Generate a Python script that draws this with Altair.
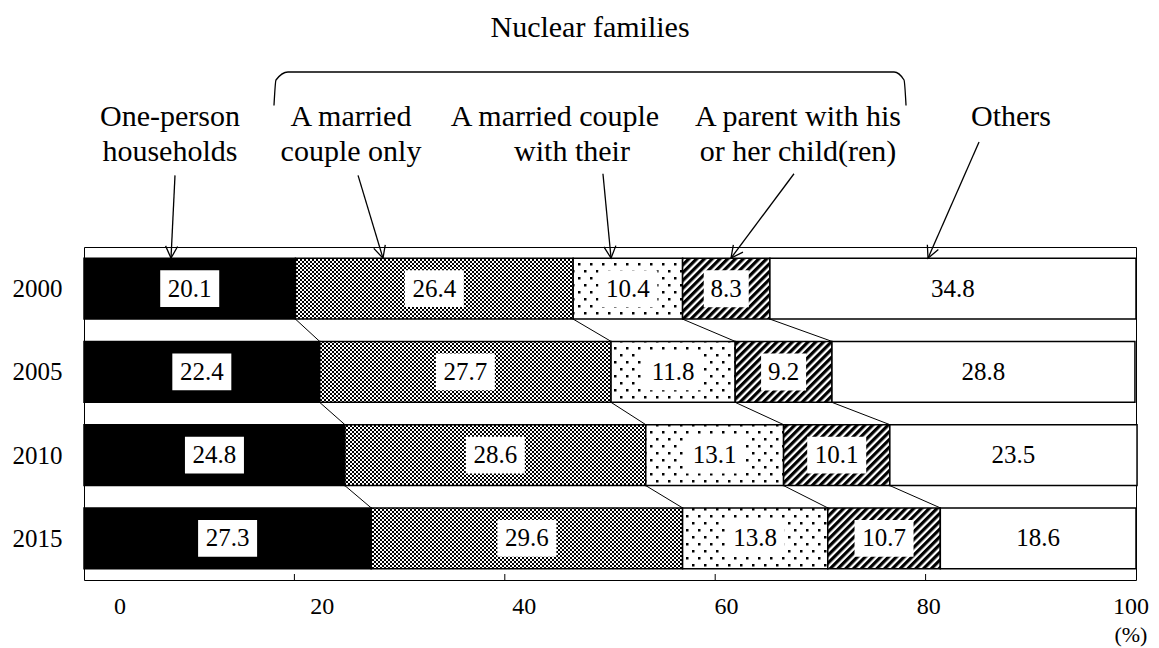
import math
import jinja2
import pandas as pd
import altair as alt

# ---------------- data ----------------
years = ["2000", "2005", "2010", "2015"]
categories = [
    "One-person households",
    "A married couple only",
    "A married couple with their children",
    "A parent with his or her child(ren)",
    "Others",
]
one_person = [20.1, 22.4, 24.8, 27.3]
couple_only = [26.4, 27.7, 28.6, 29.6]
couple_children = [10.4, 11.8, 13.1, 13.8]
parent_child = [8.3, 9.2, 10.1, 10.7]
others = [34.8, 28.8, 23.5, 18.6]
series = [one_person, couple_only, couple_children, parent_child, others]

tick_values = [0, 20, 40, 60, 80, 100]
tick_labels = ["0", "20", "40", "60", "80", "100"]
unit_label = "(%)"
group_title = "Nuclear families"

# annotation text lines (text, x in %, y in row units)
ann_text = ["One-person", "households", "A married", "couple only",
            "A married couple", "with their", "A parent with his",
            "or her child(ren)", "Others"]
ann_x = [8.17, 8.17, 25.38, 25.38, 44.77, 46.39, 67.87, 67.87, 88.12]
ann_y = [-2.06, -1.64, -2.06, -1.64, -2.06, -1.64, -2.06, -1.64, -2.06]
title_x, title_y = 48.1, -3.13

arrow_tail_x = [8.65, 26.05, 49.33, 67.49, 85.08]
arrow_tail_y = [-1.36, -1.36, -1.38, -1.38, -1.76]
arrow_tip_x = [8.27, 28.42, 50.10, 61.50, 80.23]

brace_x = [18.06, 18.25, 19.39, 77.0, 77.95, 78.14]
brace_y = [-2.20, -2.506, -2.602, -2.602, -2.506, -2.20]

# ---------------- layout / style ----------------
W, H = 1052, 333
PX_PER_PCT = W / 100.0
PX_PER_ROW = H / 4.0
BAR_HALF = 0.366
FONT = "Liberation Serif, Times New Roman, serif"
fills = ["#000000", "url(#p-stipple)", "url(#p-dots)", "url(#p-stripes)", "#ffffff"]

rows = []
for i, yr in enumerate(years):
    start = 0.0
    for c, cat in enumerate(categories):
        v = series[c][i]
        lab = f"{v:.1f}"
        rows.append(dict(year=yr, row=i, cat=cat, start=start, end=start + v,
                         mid=start + v / 2, label=lab, nchar=len(lab),
                         y0=i - BAR_HALF, y1=i + BAR_HALF))
        start += v
seg = pd.DataFrame(rows)

conn = []
for i in range(len(years) - 1):
    a = seg[seg.row == i].end.tolist()[:-1]
    b = seg[seg.row == i + 1].end.tolist()[:-1]
    for k in range(len(a)):
        conn.append(dict(x=a[k], x2=b[k], y=i + BAR_HALF, y2=i + 1 - BAR_HALF))
conn = pd.DataFrame(conn)

tip_y = -BAR_HALF
arrows = []
for tx, ty, hx in zip(arrow_tail_x, arrow_tail_y, arrow_tip_x):
    dx = (hx - tx) * PX_PER_PCT
    dy = (tip_y - ty) * PX_PER_ROW
    ang = math.degrees(math.atan2(-dx, dy)) % 360
    arrows.append(dict(x=tx, y=ty, x2=hx, y2=tip_y, ang=ang))
arrows = pd.DataFrame(arrows)

ann = pd.DataFrame(dict(t=ann_text + [group_title], x=ann_x + [title_x], y=ann_y + [title_y]))
brace = pd.DataFrame(dict(x=brace_x, y=brace_y, o=list(range(len(brace_x)))))
bottom = len(years) - 0.5
ticks = pd.DataFrame(dict(x=tick_values[1:-1], y=[bottom] * 4,
                          y2=[bottom - 6 / PX_PER_ROW] * 4))
xlab = pd.DataFrame(dict(v=tick_values, t=tick_labels, y=[bottom + 27 / PX_PER_ROW] * 6))
unit = pd.DataFrame(dict(v=[100], t=[unit_label], y=[bottom + 55 / PX_PER_ROW]))

xs = alt.Scale(domain=[0, 100], nice=False, zero=False)
ys = alt.Scale(domain=[-0.5, bottom], nice=False, zero=False, reverse=True)
label_expr = "[" + ",".join(f"'{y}'" for y in years) + "][datum.value]"
yaxis = alt.Axis(values=list(range(len(years))), labelExpr=label_expr, domain=False,
                 ticks=False, grid=False, labelFont=FONT, labelFontSize=25,
                 labelColor="black", labelPadding=22, title=None)


def X(f):
    return alt.X(f"{f}:Q", scale=xs, axis=None)


def Y(f):
    return alt.Y(f"{f}:Q", scale=ys, axis=yaxis)


bars = alt.Chart(seg).mark_rect(stroke="black", strokeWidth=1.5).encode(
    x=X("start"), x2=alt.X2("end"), y=Y("y0"), y2=alt.Y2("y1"),
    fill=alt.Fill("cat:N", scale=alt.Scale(domain=categories, range=fills), legend=None),
)

connectors = alt.Chart(conn).mark_rule(color="black", strokeWidth=1).encode(
    x=X("x"), x2=alt.X2("x2"), y=Y("y"), y2=alt.Y2("y2"))

BOX_H = 37.0


def box_layer(nchar, w):
    h = BOX_H / w
    path = f"M-1,-{h:.4f}L1,-{h:.4f}L1,{h:.4f}L-1,{h:.4f}Z"
    return alt.Chart(seg).transform_filter(f"datum.nchar == {nchar}").mark_point(
        shape=path, size=w * w, filled=True, color="white", opacity=1, strokeWidth=0
    ).encode(x=X("mid"), y=Y("row"))


boxes4 = box_layer(4, 59)
boxes3 = box_layer(3, 45)

values = alt.Chart(seg).mark_text(font=FONT, fontSize=25, color="black",
                                  align="center", baseline="middle").encode(
    x=X("mid"), y=Y("row"), text="label:N")

ann_layer = alt.Chart(ann).mark_text(font=FONT, fontSize=30, color="black",
                                     align="center", baseline="middle").encode(
    x=X("x"), y=Y("y"), text="t:N")

arrow_lines = alt.Chart(arrows).mark_rule(color="black", strokeWidth=1.3).encode(
    x=X("x"), x2=alt.X2("x2"), y=Y("y"), y2=alt.Y2("y2"))

heads = alt.Chart(arrows).mark_point(
    shape="M-0.5,-1L0,0L0.5,-1", size=576, filled=False, color="black",
    stroke="black", strokeWidth=1.3, opacity=1
).encode(x=X("x2"), y=Y("y2"), angle=alt.Angle("ang:Q", scale=None))

brace_layer = alt.Chart(brace).mark_line(color="black", strokeWidth=1.3,
                                         interpolate="monotone").encode(
    x=X("x"), y=Y("y"), order="o:Q")

tick_layer = alt.Chart(ticks).mark_rule(color="black", strokeWidth=1).encode(
    x=X("x"), y=Y("y"), y2=alt.Y2("y2"))

lab_scale = alt.Scale(domain=[-3.56, 100.5], nice=False, zero=False)
xlab_layer = alt.Chart(xlab).mark_text(font=FONT, fontSize=24, color="black",
                                       align="center", baseline="middle").encode(
    x=alt.X("v:Q", scale=lab_scale, axis=None), y=Y("y"), text="t:N")
unit_layer = alt.Chart(unit).mark_text(font=FONT, fontSize=22, color="black",
                                       align="center", baseline="middle").encode(
    x=alt.X("v:Q", scale=lab_scale, axis=None), y=Y("y"), text="t:N")

chart = alt.layer(
    bars, connectors, boxes4, boxes3, values, ann_layer, arrow_lines, heads,
    brace_layer, tick_layer, xlab_layer, unit_layer
).resolve_scale(x="independent").properties(
    width=W, height=H,
    padding={"left": 76, "top": 239, "right": 20, "bottom": 68},
    autosize=alt.AutoSizeParams(type="none"),
    background="white",
).configure_view(stroke="black", strokeWidth=1)

DEFS = """
<svg width="0" height="0" style="position:absolute">
<defs>
<pattern id="p-stipple" width="4" height="4" patternUnits="userSpaceOnUse">
<rect width="4" height="4" fill="#fff"/><rect width="2" height="2" fill="#000"/><rect x="2" y="2" width="2" height="2" fill="#000"/>
</pattern>
<pattern id="p-dots" width="12" height="14" patternUnits="userSpaceOnUse">
<rect width="12" height="14" fill="#fff"/><rect x="2" y="2" width="2.5" height="2.5" fill="#000"/><rect x="8" y="9" width="2.5" height="2.5" fill="#000"/>
</pattern>
<pattern id="p-stripes" width="5.5" height="5.5" patternUnits="userSpaceOnUse" patternTransform="rotate(45)">
<rect width="5.5" height="5.5" fill="#fff"/><rect width="3.2" height="5.5" fill="#000"/>
</pattern>
</defs>
</svg>
"""

TEMPLATE = jinja2.Template("""<!DOCTYPE html>
<html>
<head>
<meta charset="utf-8">
<style>
html, body { overflow: hidden; }
body { margin: 8px; }
</style>
<script type="text/javascript" src="{{ base_url }}/vega@{{ vega_version }}"></script>
<script type="text/javascript" src="{{ base_url }}/vega-lite@{{ vegalite_version }}"></script>
<script type="text/javascript" src="{{ base_url }}/vega-embed@{{ vegaembed_version }}"></script>
</head>
<body>
""" + DEFS + """
<div id="{{ output_div }}"></div>
<script type="text/javascript">
vegaEmbed("#{{ output_div }}", {{ spec }}, {{ embed_options }}).catch(console.error);
</script>
</body>
</html>
""")

chart.save("out.html", embed_options={"renderer": "svg", "actions": False}, template=TEMPLATE)
